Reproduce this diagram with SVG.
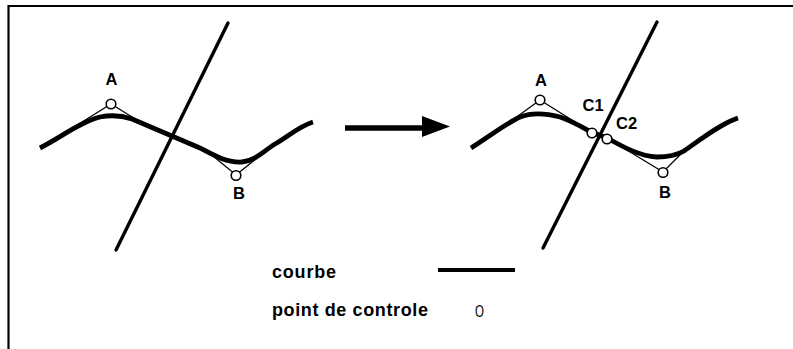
<svg xmlns="http://www.w3.org/2000/svg" width="793" height="349" viewBox="0 0 793 349">
<style>
.frame{stroke:#000;stroke-width:2.2;fill:none}
.axis{stroke:#000;stroke-width:3.4;fill:none;stroke-linecap:round}
.curve{stroke:#000;stroke-width:4.8;fill:none;stroke-linejoin:round}
.thin{stroke:#000;stroke-width:1.3;fill:none}
.cp{fill:#fff;stroke:#000;stroke-width:1.6}
.lbl{font-family:"Liberation Sans",Arial,sans-serif;font-weight:bold;font-size:16.5px;fill:#000}
.leg{font-family:"Liberation Sans",Arial,sans-serif;font-weight:bold;font-size:18px;fill:#000}
</style>
<rect width="793" height="349" fill="#fff"/>
<g id="frame">
<path class="frame" d="M8.5,349 V6 H793"/>
</g>
<g id="connectors">
<line class="axis" x1="228" y1="23" x2="116" y2="250"/>
<line class="axis" x1="657" y1="22" x2="543" y2="248"/>
<line x1="345" y1="128" x2="424" y2="128" stroke="#000" stroke-width="5.5"/>
<polygon points="422,116 450,126.5 422,137" fill="#000"/>
</g>
<g id="left-curve">
<path class="thin" d="M82,122 L111,104 L137,120"/>
<path class="thin" d="M213,156 L236,175 L257,158"/>
<path class="curve" d="M40,148 C60,138 80,122 100,117 C110,115 120,115 132,119 L200,148 C215,156 228,163 242,162 C255,161 265,150 275,144 C290,135 300,126 313,122"/>
</g>
<g id="left-A">
<circle class="cp" cx="111" cy="104" r="4.8"/>
<text class="lbl" x="111.5" y="85" text-anchor="middle">A</text>
</g>
<g id="left-B">
<circle class="cp" cx="236" cy="175.5" r="4.8"/>
<text class="lbl" x="239" y="198.5" text-anchor="middle">B</text>
</g>
<g id="right-curve">
<path class="thin" d="M518,116 L540,100 L591,132"/>
<path class="thin" d="M607,138 L663,172 L684,151"/>
<path class="curve" d="M471,148 C490,136 505,124 520,117 C530,113 545,113 560,117 C572,121 582,127 591,132 L607,138 C625,148 640,156 657,157 C668,157 677,155 684,151 C700,140 720,124 738,118"/>
</g>
<g id="right-A">
<circle class="cp" cx="540" cy="100" r="4.8"/>
<text class="lbl" x="541" y="86" text-anchor="middle">A</text>
</g>
<g id="right-C1">
<circle class="cp" cx="592" cy="133" r="4.8"/>
<text class="lbl" x="582.5" y="110.5">C1</text>
</g>
<g id="right-C2">
<circle class="cp" cx="607" cy="139" r="4.8"/>
<text class="lbl" x="616" y="129">C2</text>
</g>
<g id="right-B">
<circle class="cp" cx="663" cy="172.5" r="4.8"/>
<text class="lbl" x="665" y="197.5" text-anchor="middle">B</text>
</g>
<g id="legend">
<text class="leg" x="272" y="278" textLength="64" lengthAdjust="spacing">courbe</text>
<line x1="438" y1="270" x2="515" y2="270" stroke="#000" stroke-width="4.2"/>
<text class="leg" x="272" y="316" textLength="156" lengthAdjust="spacing">point de controle</text>
<text x="475" y="317" font-family="'Liberation Sans',Arial,sans-serif" font-size="16" fill="#000" textLength="9" lengthAdjust="spacingAndGlyphs">O</text>
</g>
</svg>
